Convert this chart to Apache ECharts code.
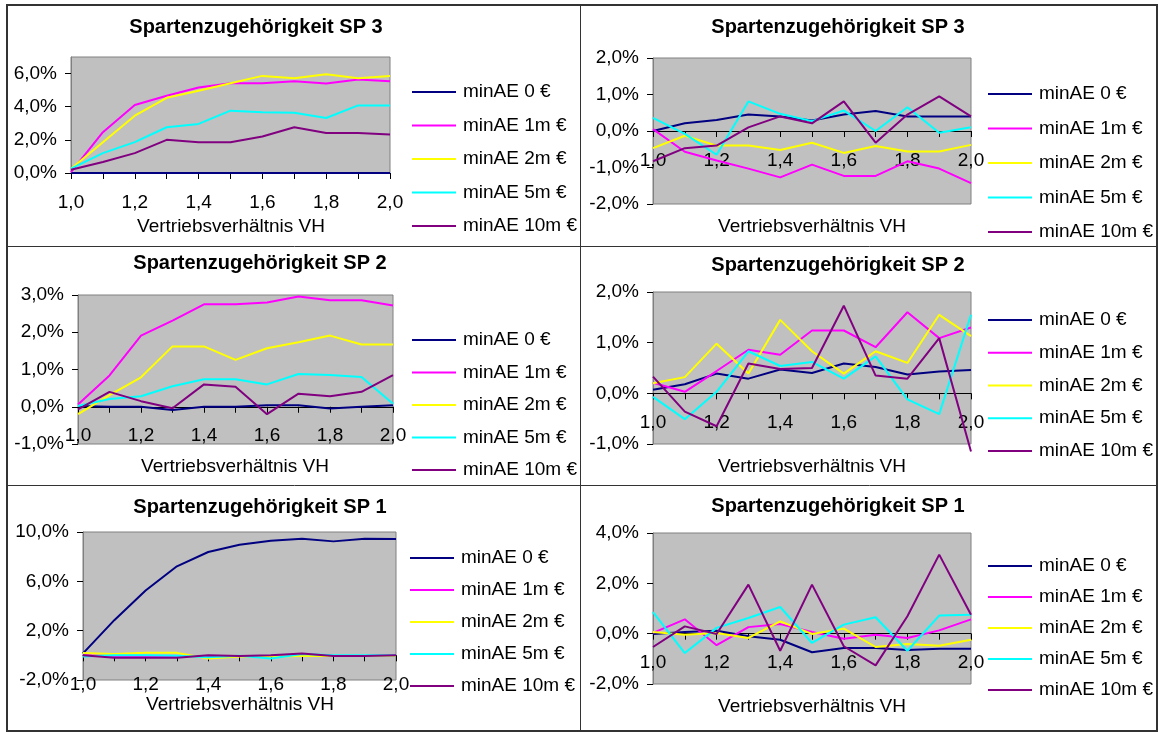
<!DOCTYPE html>
<html>
<head>
<meta charset="utf-8">
<title>Spartenzugehörigkeit</title>
<script src="https://cdn.jsdelivr.net/npm/echarts@6/dist/echarts.min.js"></script>
<style>
  html, body { margin: 0; padding: 0; background: #ffffff; }
  #chart { width: 1159px; height: 732px; }
</style>
</head>
<body>
<div id="chart"></div>
<script>
// Vertriebsverhältnis VH (category axis)
const categories = ['1,0', '1,1', '1,2', '1,3', '1,4', '1,5', '1,6', '1,7', '1,8', '1,9', '2,0'];
const seriesNames = ['minAE 0 €', 'minAE 1m €', 'minAE 2m €', 'minAE 5m €', 'minAE 10m €'];
const seriesColors = ['#000080', '#ff00ff', '#ffff00', '#00ffff', '#800080'];

// values in percent, one row per series (0 €, 1m €, 2m €, 5m €, 10m €)
const sp3Left = [
  [0, 0, 0, 0, 0, 0, 0, 0, 0, 0, 0],
  [0.05, 2.46, 4.10, 4.66, 5.16, 5.42, 5.42, 5.54, 5.40, 5.64, 5.54],
  [0.26, 1.86, 3.46, 4.54, 4.96, 5.42, 5.86, 5.72, 5.96, 5.72, 5.86],
  [0.26, 1.20, 1.86, 2.76, 2.96, 3.76, 3.66, 3.64, 3.32, 4.08, 4.08],
  [0.20, 0.66, 1.20, 2.00, 1.86, 1.86, 2.20, 2.76, 2.42, 2.42, 2.32]
];
const sp3Right = [
  [0.00, 0.21, 0.30, 0.45, 0.40, 0.29, 0.45, 0.55, 0.40, 0.40, 0.40],
  [0.05, -0.57, -0.81, -1.03, -1.27, -0.92, -1.23, -1.23, -0.83, -1.03, -1.43],
  [-0.47, -0.13, -0.40, -0.40, -0.52, -0.32, -0.60, -0.41, -0.56, -0.56, -0.38],
  [0.36, -0.08, -0.65, 0.81, 0.47, 0.27, 0.56, 0.00, 0.65, -0.05, 0.10],
  [-0.83, -0.47, -0.40, 0.10, 0.40, 0.21, 0.81, -0.32, 0.45, 0.95, 0.40]
];
const sp2Left = [
  [0.02, 0.00, 0.00, -0.09, 0.00, 0.00, 0.04, 0.04, -0.05, 0.00, 0.04],
  [0.06, 0.84, 1.91, 2.31, 2.75, 2.75, 2.80, 2.96, 2.86, 2.86, 2.72],
  [-0.20, 0.31, 0.79, 1.62, 1.62, 1.26, 1.57, 1.73, 1.91, 1.67, 1.67],
  [0.02, 0.21, 0.28, 0.55, 0.74, 0.74, 0.60, 0.88, 0.85, 0.80, 0.08],
  [-0.07, 0.40, 0.15, -0.04, 0.60, 0.54, -0.20, 0.35, 0.28, 0.40, 0.85]
];
const sp2Right = [
  [0.07, 0.18, 0.39, 0.29, 0.47, 0.40, 0.59, 0.52, 0.37, 0.43, 0.46],
  [0.21, 0.03, 0.44, 0.86, 0.76, 1.24, 1.24, 0.91, 1.60, 1.09, 1.30],
  [0.20, 0.32, 0.98, 0.39, 1.45, 0.83, 0.39, 0.83, 0.60, 1.55, 1.13],
  [-0.07, -0.51, 0.03, 0.83, 0.54, 0.62, 0.29, 0.73, -0.12, -0.41, 1.55],
  [0.33, -0.36, -0.65, 0.59, 0.48, 0.50, 1.73, 0.35, 0.29, 1.09, -1.15]
];
const sp1Left = [
  [0.16, 2.85, 5.25, 7.22, 8.38, 8.97, 9.30, 9.46, 9.24, 9.46, 9.43],
  [0.00, -0.05, -0.05, -0.05, -0.05, -0.05, -0.05, -0.05, -0.05, -0.05, 0.00],
  [0.18, 0.10, 0.20, 0.20, -0.25, -0.10, -0.10, -0.05, -0.05, -0.05, -0.03],
  [-0.10, 0.00, 0.00, -0.03, -0.15, -0.03, -0.25, 0.10, 0.00, 0.00, 0.00],
  [0.00, -0.20, -0.20, -0.20, 0.00, -0.05, 0.00, 0.15, -0.05, -0.05, 0.00]
];
const sp1Right = [
  [-0.01, 0.07, 0.12, -0.10, -0.24, -0.74, -0.57, -0.57, -0.65, -0.60, -0.60],
  [0.03, 0.57, -0.46, 0.26, 0.38, 0.07, -0.20, -0.04, -0.17, 0.13, 0.57],
  [0.07, -0.04, 0.03, -0.17, 0.49, -0.01, 0.20, -0.53, -0.41, -0.48, -0.24],
  [0.86, -0.77, 0.23, 0.62, 1.06, -0.37, 0.36, 0.65, -0.68, 0.72, 0.75],
  [-0.53, 0.29, -0.01, 1.95, -0.68, 1.95, -0.50, -1.26, 0.69, 3.14, 0.75]
];

// value axis ranges: [min, max, interval]
const sp3LeftAxis = [0, 7, 2];
const sp3RightAxis = [-2, 2, 1];
const sp2LeftAxis = [-1, 3, 1];
const sp2RightAxis = [-1, 2, 1];
const sp1LeftAxis = [-2, 10, 4];
const sp1RightAxis = [-2, 4, 2];

const panelTitles = ['Spartenzugehörigkeit SP 3', 'Spartenzugehörigkeit SP 3',
                     'Spartenzugehörigkeit SP 2', 'Spartenzugehörigkeit SP 2',
                     'Spartenzugehörigkeit SP 1', 'Spartenzugehörigkeit SP 1'];
const xAxisTitle = 'Vertriebsverhältnis VH';

// ---- layout of the six panels ----
const FONT = '"Liberation Sans", Arial, sans-serif';
const panels = [
  { values: sp3Left,  axis: sp3LeftAxis,  grid: { left: 71,  top: 57,  width: 319, height: 116 },
    legend: { left: 412, top: 82,  gap: 13.5 }, title: [256, 27],  name: [231, 227] },
  { values: sp3Right, axis: sp3RightAxis, grid: { left: 653, top: 58,  width: 318, height: 146 },
    legend: { left: 988, top: 84,  gap: 14.5 }, title: [838, 27],  name: [812, 227] },
  { values: sp2Left,  axis: sp2LeftAxis,  grid: { left: 78,  top: 295, width: 315, height: 149 },
    legend: { left: 412, top: 330, gap: 12.5 }, title: [260, 263], name: [235, 467] },
  { values: sp2Right, axis: sp2RightAxis, grid: { left: 653, top: 292, width: 318, height: 152 },
    legend: { left: 988, top: 310, gap: 12.75 }, title: [838, 265], name: [812, 467] },
  { values: sp1Left,  axis: sp1LeftAxis,  grid: { left: 83,  top: 532, width: 313, height: 148 },
    legend: { left: 410, top: 548, gap: 12 },   title: [260, 507], name: [240, 705] },
  { values: sp1Right, axis: sp1RightAxis, grid: { left: 653, top: 533, width: 318, height: 151 },
    legend: { left: 988, top: 556, gap: 11 },   title: [838, 506], name: [812, 707] }
];

const pct = v => v.toFixed(1).replace('.', ',') + '%';

const option = {
  backgroundColor: '#ffffff',
  animation: false,
  textStyle: { fontFamily: FONT, color: '#000' },
  grid: [], xAxis: [], yAxis: [], legend: [], series: [], graphic: []
};

panels.forEach((p, i) => {
  option.grid.push(Object.assign({
    show: true, backgroundColor: '#c0c0c0', borderColor: '#808080', borderWidth: 1,
    containLabel: false
  }, p.grid));

  // the category axis (line, ticks and labels) sits on the 0 % level
  const [yMin, yMax] = p.axis;
  const zeroLift = p.grid.height * (0 - yMin) / (yMax - yMin);

  option.xAxis.push({
    type: 'category', gridIndex: i, data: categories, boundaryGap: false,
    position: 'bottom', offset: -zeroLift,
    axisLine: { onZero: false, lineStyle: { color: '#000', width: 1 } },
    axisTick: { show: true, interval: 0, inside: false, length: 6, lineStyle: { color: '#000' } },
    axisLabel: { interval: 1, margin: 20, fontSize: 19, color: '#000', fontFamily: FONT },
    splitLine: { show: false }
  });

  option.yAxis.push({
    type: 'value', gridIndex: i, min: p.axis[0], max: p.axis[1], interval: p.axis[2],
    axisLine: { show: true, lineStyle: { color: '#808080' } },
    axisTick: { show: true, length: 6, lineStyle: { color: '#000' } },
    axisLabel: { margin: 14, fontSize: 19, color: '#000', fontFamily: FONT,
                 showMaxLabel: (p.axis[1] - p.axis[0]) % p.axis[2] === 0, formatter: pct },
    splitLine: { show: false }
  });

  option.legend.push({
    orient: 'vertical', left: p.legend.left, top: p.legend.top, itemGap: p.legend.gap,
    padding: 0, itemWidth: 44, itemHeight: 2, icon: 'rect', selectedMode: false,
    data: seriesNames,
    textStyle: { fontSize: 19, lineHeight: 20, color: '#000', fontFamily: FONT, padding: [0, 0, 0, 2] }
  });

  p.values.forEach((row, s) => {
    option.series.push({
      type: 'line', name: seriesNames[s], xAxisIndex: i, yAxisIndex: i,
      data: row, symbol: 'none', clip: false, z: 2 + s,
      color: seriesColors[s],
      lineStyle: { color: seriesColors[s], width: 2 }
    });
  });

  option.graphic.push({
    type: 'text', x: p.title[0], y: p.title[1], z: 10,
    style: { text: panelTitles[i], font: 'bold 20px ' + FONT, fill: '#000',
             textAlign: 'center', textVerticalAlign: 'middle' }
  });
  option.graphic.push({
    type: 'text', x: p.name[0], y: p.name[1], z: 10,
    style: { text: xAxisTitle, font: '19px ' + FONT, fill: '#000',
             textAlign: 'center', textVerticalAlign: 'middle' }
  });
});

// table frame around the panels
const frameColor = '#333333';
option.graphic.push(
  { type: 'rect', shape: { x: 7, y: 5, width: 1150, height: 726 },
    style: { fill: 'none', stroke: frameColor, lineWidth: 2 }, z: 20 },
  { type: 'line', shape: { x1: 580.5, y1: 5, x2: 580.5, y2: 731 },
    style: { stroke: frameColor, lineWidth: 1 }, z: 20 },
  { type: 'line', shape: { x1: 7, y1: 246.5, x2: 1157, y2: 246.5 },
    style: { stroke: frameColor, lineWidth: 1 }, z: 20 },
  { type: 'line', shape: { x1: 7, y1: 485.5, x2: 1157, y2: 485.5 },
    style: { stroke: frameColor, lineWidth: 1 }, z: 20 }
);

const chart = echarts.init(document.getElementById('chart'), null, { renderer: 'canvas' });
chart.setOption(option);
</script>
</body>
</html>
